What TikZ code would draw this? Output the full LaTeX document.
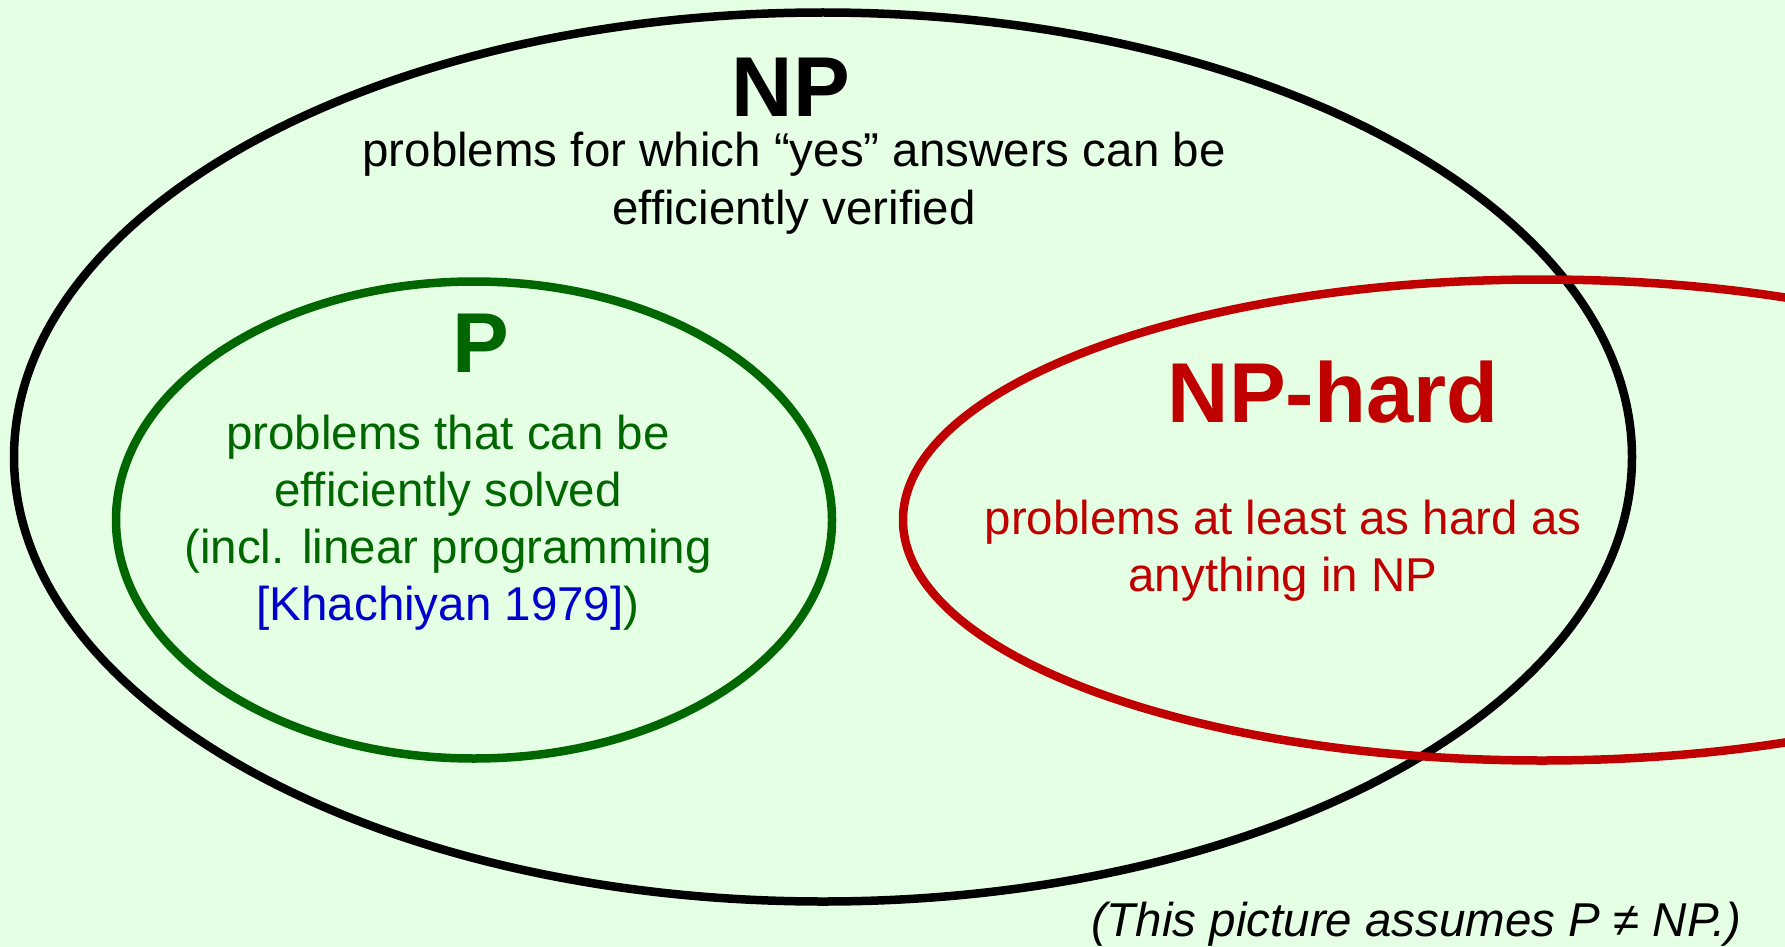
\documentclass[tikz,border=0pt]{standalone}
\usepackage{fontspec}
\setmainfont{Liberation Sans}
\definecolor{bgcol}{RGB}{229,255,229}
\definecolor{pgreen}{RGB}{0,102,0}
\definecolor{hardred}{RGB}{192,0,0}
\definecolor{citeblue}{RGB}{0,0,204}
\tikzset{
  setline/.style={line width=8.5pt},
  title/.style={inner sep=0pt, anchor=base, font=\fontsize{85}{100}\selectfont\bfseries},
  body/.style={inner sep=0pt, anchor=base, font=\fontsize{47.5}{57}\selectfont},
}
\begin{document}
\begin{tikzpicture}[x=1pt,y=-1pt]
  % canvas
  \fill[bgcol] (0,0) rectangle (1785,947);
  \useasboundingbox (0,0) rectangle (1785,947);
  \clip (0,0) rectangle (1785,947);

  % the three sets
  \draw[setline, black] (823,457) ellipse [x radius=809pt, y radius=444.5pt];
  \draw[setline, pgreen] (474,520) ellipse [x radius=358pt, y radius=238.5pt];
  \draw[setline, hardred] (1542,520) ellipse [x radius=639pt, y radius=240.5pt];

  % NP
  \node[title] (npT) at (791,117) {NP};
  \node[body] (npA) at (794,166) {problems for which “yes” answers can be};
  \node[body] (npB) at (794,224) {efficiently verified};

  % P
  \node[title, text=pgreen] (pT) at (481,372) {P};
  \node[body, text=pgreen] (pA) at (448,449) {problems that can be};
  \node[body, text=pgreen] (pB) at (448,506) {efficiently solved};
  \node[body, text=pgreen] (pC) at (448,563) {(incl. linear programming};
  \node[body, text=pgreen] (pD) at (448,620) {\textcolor{citeblue}{[Khachiyan 1979]})};

  % NP-hard
  \node[title, text=hardred] (hT) at (1333,422) {NP-hard};
  \node[body, text=hardred] (hA) at (1283,534) {problems at least as hard as};
  \node[body, text=hardred] (hB) at (1283,591) {anything in NP};

  % assumption note
  \node[body, anchor=base east, font=\fontsize{47.5}{57}\selectfont\itshape] (note) at (1742,936) {(This picture assumes P ≠ NP.)};
\end{tikzpicture}
\end{document}
